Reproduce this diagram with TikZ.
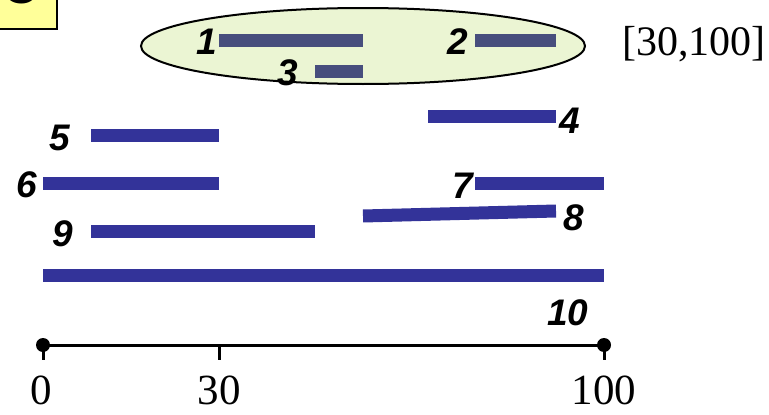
\documentclass[tikz,border=0pt]{standalone}
\usepackage{fontspec}
\setmainfont{Liberation Serif}
\newfontfamily\labelfont{Liberation Sans}
\definecolor{segblue}{HTML}{333399}
\definecolor{segdim}{HTML}{474E7D}
\definecolor{setgreen}{HTML}{EBF5D3}
\definecolor{tagyellow}{HTML}{FFFF99}
\tikzset{
  seg/.style={segblue,line width=13pt},
  segin/.style={segdim,line width=13pt},
  num/.style={font=\labelfont\bfseries\itshape\fontsize{37}{37}\selectfont,inner sep=0pt},
  val/.style={font=\fontsize{43}{43}\selectfont,inner sep=0pt}
}
\begin{document}
\begin{tikzpicture}[x=1pt,y=-1pt]
            \useasboundingbox (0,0) rectangle (769,415);
            % tag in the corner
            \draw[line width=2.5pt,fill=tagyellow] (-10,-40) rectangle (57,29);
            \node[font=\labelfont\bfseries\fontsize{50}{50}\selectfont,anchor=base] (tag) at (21,4) {C};
            % the chosen set
            \draw[line width=2pt,fill=setgreen] (363,46) ellipse (222 and 38);
            \draw[segin] (219,40) -- (363,40);
            \draw[segin] (475,40) -- (556,40);
            \draw[segin] (315,71) -- (363,71);
            \node[num] (n1) at (207,42) {1};
            \node[num] (n2) at (458,42) {2};
            \node[num] (n3) at (288,73) {3};
            \node[font=\fontsize{42}{42}\selectfont] (range) at (694,44) {[30,100]};
            % the other intervals
            \draw[seg] (428,116) -- (556,116);
            \draw[seg] (91,135) -- (219,135);
            \draw[seg] (43,183) -- (219,183);
            \draw[seg] (475,183) -- (604,183);
            \draw[seg] (363,216) -- (556,211);
            \draw[seg] (91,231) -- (315,231);
            \draw[seg] (43,275) -- (604,275);
            \node[num] (n4) at (570,121) {4};
            \node[num] (n5) at (60,138) {5};
            \node[num] (n6) at (27,185) {6};
            \node[num] (n7) at (463,186) {7};
            \node[num] (n8) at (574,218) {8};
            \node[num] (n9) at (63,234) {9};
            \node[num] (n10) at (568,313) {10};
            % axis
            \coordinate (a0) at (43,345);
            \coordinate (a30) at (219,345);
            \coordinate (a100) at (604,345);
            \draw[line width=3pt] (a0) -- (a100);
            \foreach \p in {a0,a30,a100}
              \draw[line width=3pt] (\p) -- ++(0,15);
            \fill (a0) circle (7);
            \fill (a100) circle (7);
            \node[val] (v0) at (41,390) {0};
            \node[val] (v30) at (219,390) {30};
            \node[val] (v100) at (604,390) {100};
        \end{tikzpicture}
\end{document}
